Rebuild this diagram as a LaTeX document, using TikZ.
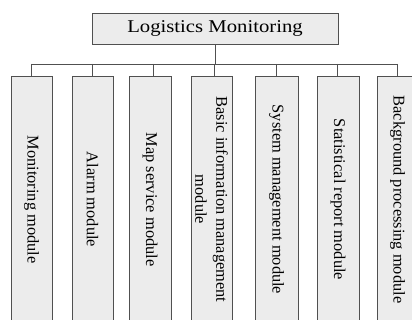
\documentclass[tikz,border=0pt]{standalone}
\usepackage{fontspec}
\setmainfont{Liberation Serif}
\usepackage{graphicx}
\definecolor{boxfill}{HTML}{ECECEC}
\definecolor{edge}{HTML}{505050}
\begin{document}
\begin{tikzpicture}[x=1pt,y=-1pt,
  line/.style={draw=edge, line width=0.9pt},
  topbox/.style={draw=edge, line width=0.9pt, fill=boxfill, minimum width=246pt, minimum height=31pt, inner sep=0pt, font=\fontsize{18}{20}\selectfont},
  modbox/.style={draw=edge, line width=0.9pt, fill=boxfill, rotate=-90, minimum width=247pt, inner sep=0pt, align=center, font=\fontsize{16.4}{21}\selectfont}]
\useasboundingbox (0,0) rectangle (412,320);
\clip (0,0) rectangle (412,320);
\node[topbox] (root) at (215,28.5) {\scalebox{1.15}[1]{Logistics Monitoring}};
\node[modbox, minimum height=41pt] (m1) at (31.5,199.5) {Monitoring module};
\node[modbox, minimum height=41pt] (m2) at (92.5,199.5) {Alarm module};
\node[modbox, minimum height=42pt] (m3) at (150,199.5) {Map service module};
\node[modbox, minimum height=41pt] (m4) at (211.5,199.5) {Basic information management\\module};
\node[modbox, minimum height=43pt] (m5) at (276.5,199.5) {System management module};
\node[modbox, minimum height=42pt] (m6) at (338,199.5) {Statistical report module};
\node[modbox, minimum height=41pt] (m7) at (397.5,199.5) {Background processing module};
\coordinate (j1) at (31,64);
\coordinate (j2) at (92,64);
\coordinate (j3) at (153,64);
\coordinate (j4) at (214,64);
\coordinate (j5) at (276,64);
\coordinate (j6) at (337,64);
\coordinate (j7) at (397,64);
\draw[line] (root.south) -- (root.south |- j4);
\draw[line] (j1) -- (j7);
\foreach \i in {1,...,7}{
  \draw[line] (j\i) -- (j\i |- m\i.west);
}
\end{tikzpicture}
\end{document}
